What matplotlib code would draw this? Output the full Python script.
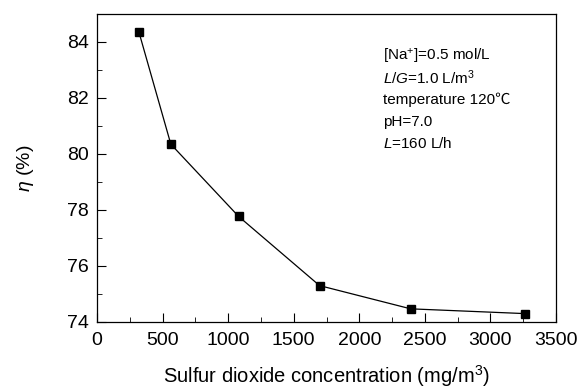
import matplotlib
matplotlib.use('Agg')
import matplotlib.pyplot as plt
from matplotlib.ticker import MultipleLocator

plt.rcParams['font.family'] = ['Liberation Sans', 'DejaVu Sans']
plt.rcParams['mathtext.fontset'] = 'custom'
plt.rcParams['mathtext.rm'] = 'Liberation Sans'
plt.rcParams['mathtext.it'] = 'Liberation Sans:italic'

so2 = [320, 563, 1080, 1697, 2392, 3263]
eta = [84.35, 80.35, 77.77, 75.30, 74.47, 74.30]

fig = plt.figure(figsize=(5.85, 3.92), dpi=100)
ax = fig.add_axes([97/585, 1-322/392, (556-97)/585, (322-14)/392])

ax.plot(so2, eta, color='black', lw=0.9, marker='s', ms=6, mfc='black', mec='black')

ax.set_xlim(0, 3500)
ax.set_ylim(74, 85)
ax.xaxis.set_major_locator(MultipleLocator(500))
ax.xaxis.set_minor_locator(MultipleLocator(250))
ax.yaxis.set_major_locator(MultipleLocator(2))
ax.yaxis.set_minor_locator(MultipleLocator(1))
ax.tick_params(which='both', direction='in', top=False, right=False, labelsize=14)
ax.tick_params(axis='x', pad=7)
ax.tick_params(axis='y', pad=6)
ax.tick_params(which='major', length=6.5)
ax.tick_params(which='minor', length=3.5)
for s in ax.spines.values():
    s.set_linewidth(0.9)

ax.set_xlabel('Sulfur dioxide concentration (mg/m$^3$)', fontsize=14.5, labelpad=10)
ax.set_ylabel('$\\eta$ (%)', fontsize=14, labelpad=22)

txt = ['[Na$^{+}$]=0.5 mol/L',
       '$L$/$G$=1.0 L/m$^3$',
       'temperature 120\u2103',
       'pH=7.0',
       '$L$=160 L/h']
for i, t in enumerate(txt):
    fig.text(383/585, 1-(56+22*i)/392, t, fontsize=11, va='center', ha='left',
             family=['Liberation Sans', 'Noto Sans CJK SC', 'DejaVu Sans'])

fig.savefig('out.png', dpi=100)
